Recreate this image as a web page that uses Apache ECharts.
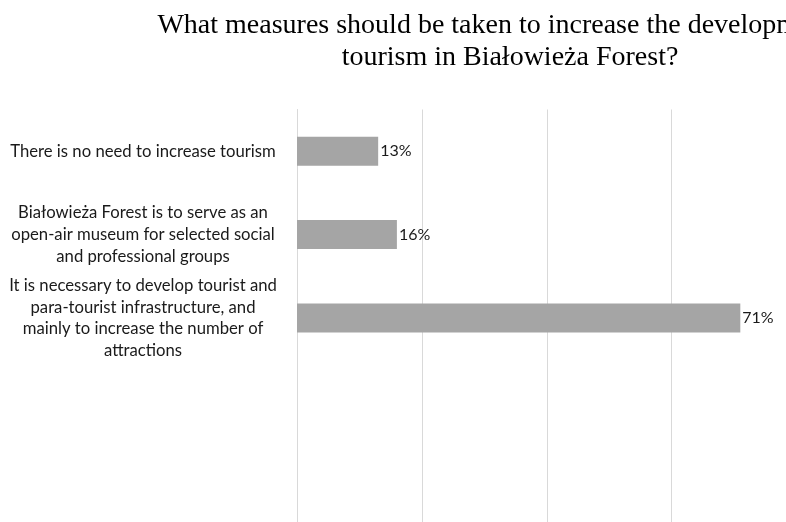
<!DOCTYPE html>
<html>
<head>
<meta charset="utf-8">
<script src="https://cdn.jsdelivr.net/npm/echarts@6/dist/echarts.min.js"></script>
<style>
  html, body { margin: 0; padding: 0; background: #ffffff; }
  #chart { width: 786px; height: 522px; }
</style>
</head>
<body>
<div id="chart"></div>
<script>
// Survey answers (top to bottom); the two trailing blanks keep the empty rows of the plot area
const categories = [
  'There is no need to increase tourism',
  'Białowieża Forest is to serve as an\nopen-air museum for selected social\nand professional groups',
  'It is necessary to develop tourist and\npara-tourist infrastructure, and\nmainly to increase the number of\nattractions',
  '',
  ''
];
// Share of respondents, in percent
const shares = [13, 16, 71, null, null];

const titleLine1 = 'What measures should be taken to increase the development of';
const titleLine2 = 'tourism in Białowieża Forest?';

const chart = echarts.init(document.getElementById('chart'), null, { renderer: 'canvas' });

chart.setOption({
  animation: false,
  backgroundColor: '#ffffff',
  title: {
    text: titleLine1 + '\n' + titleLine2,
    left: 505,
    top: 5,
    textAlign: 'center',
    textStyle: {
      fontFamily: '"Liberation Serif", "Times New Roman", serif',
      fontSize: 28,
      fontWeight: 'normal',
      color: '#000000',
      lineHeight: 32
    }
  },
  grid: {
    left: 297,
    top: 109.5,
    width: 499.5,
    height: 417,
    containLabel: false,
    outerBoundsMode: 'none'
  },
  xAxis: {
    type: 'value',
    min: 0,
    max: 80,
    interval: 20,
    axisLine: { show: false },
    axisTick: { show: false },
    axisLabel: { show: false },
    splitLine: { show: true, lineStyle: { color: '#d9d9d9', width: 1 } }
  },
  yAxis: {
    type: 'category',
    inverse: true,
    data: categories,
    axisLine: { show: true, lineStyle: { color: '#d9d9d9', width: 1 } },
    axisTick: { show: false },
    axisLabel: {
      margin: 154,
      align: 'center',
      fontFamily: 'Lato, "Open Sans", sans-serif',
      fontSize: 16.7,
      lineHeight: 21.7,
      color: '#1a1a1a'
    }
  },
  series: [{
    type: 'bar',
    data: shares,
    barWidth: 29,
    itemStyle: { color: '#a5a5a5' },
    label: {
      show: true,
      position: 'right',
      distance: 2,
      formatter: p => p.value + '%',
      fontFamily: 'Lato, "Open Sans", sans-serif',
      fontSize: 16,
      color: '#1a1a1a'
    }
  }]
});
</script>
</body>
</html>
